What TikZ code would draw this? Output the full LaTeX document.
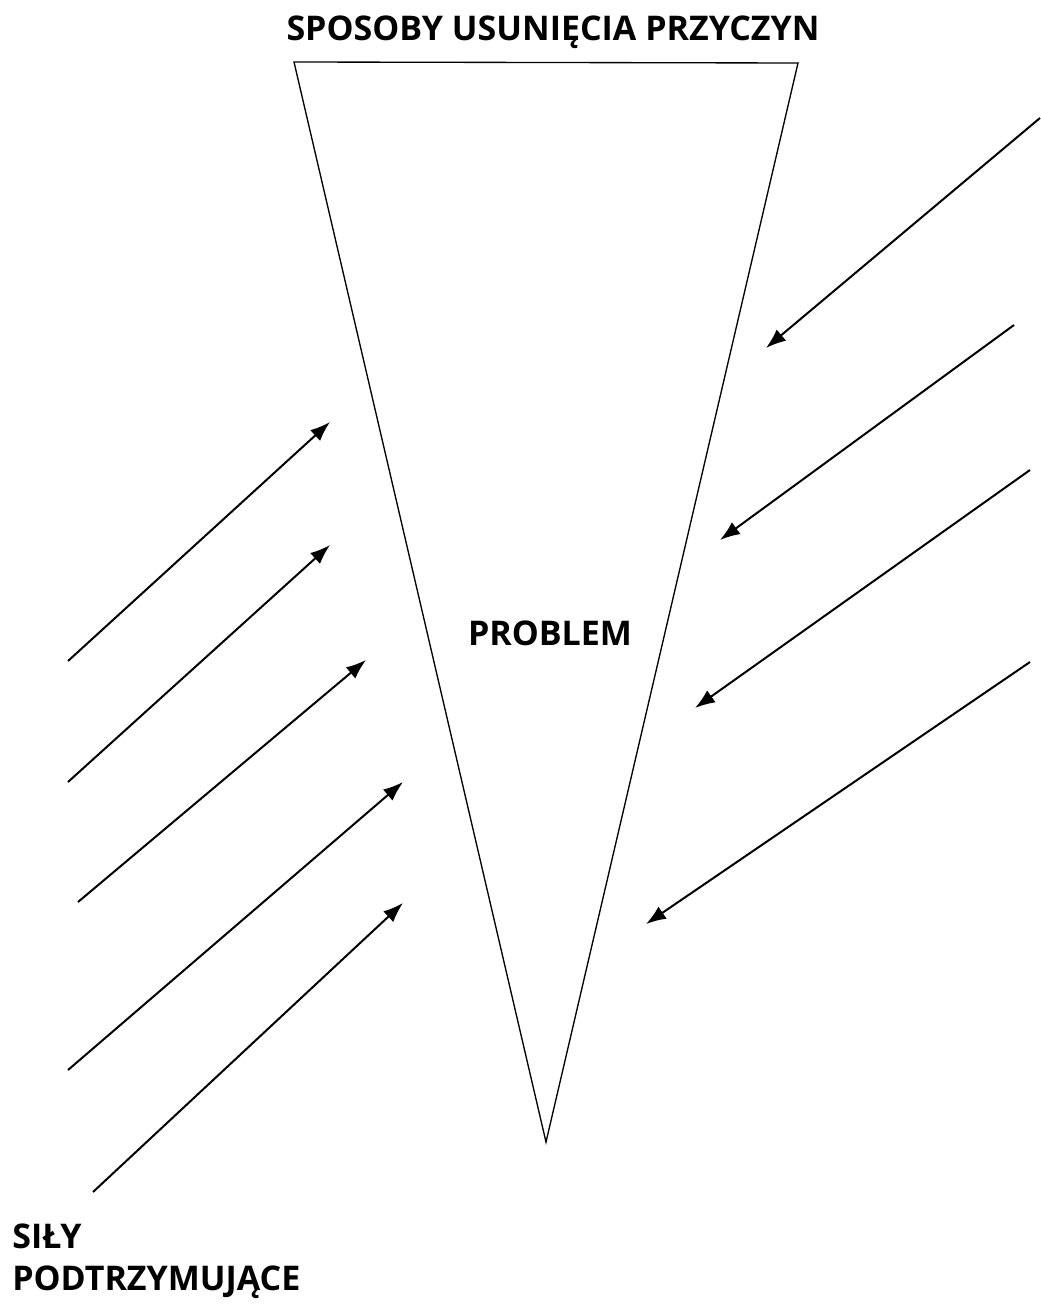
\documentclass[tikz,border=0pt]{standalone}
\usepackage{fontspec}
\setmainfont{Open Sans}
\usetikzlibrary{arrows.meta}

\begin{document}
\begin{tikzpicture}[x=0.75pt,y=-0.75pt, every node/.style={font=\bfseries\fontsize{25.5}{31.5}\selectfont}]
  \useasboundingbox (0,0) rectangle (1041,1305);
  % the funnel
  \coordinate (tl) at (294,62);
  \coordinate (tr) at (798,63);
  \coordinate (tip) at (546,1142);
  \draw[line width=1pt, line join=miter] (tl) -- (tr) -- (tip) -- cycle;
  % labels
  \node[anchor=base] (title) at (553,41) {SPOSOBY USUNIĘCIA PRZYCZYN};
  \node[anchor=base] (problem) at (550,645) {PROBLEM};
  \node[anchor=base west, align=left, inner sep=0pt] (forces) at (12,1290) {SIŁY\\PODTRZYMUJĄCE};
  % forces from the left
  \foreach \i/\ax/\ay/\bx/\by in {1/68/661/330/422, 2/68/782/330/545, 3/78/902/366/660, 4/68/1070/403/782, 5/93/1192/403/903} {
    \coordinate (l\i a) at (\ax,\ay);
    \coordinate (l\i b) at (\bx,\by);
    \draw[-{Latex[length=15pt,width=11pt]}, line width=1.5pt] (l\i a) -- (l\i b);
  }
  % forces from the right
  \foreach \i/\ax/\ay/\bx/\by in {1/1040/118/766/348, 2/1014/325/720/540, 3/1030/470/695/708, 4/1030/662/646/924} {
    \coordinate (r\i a) at (\ax,\ay);
    \coordinate (r\i b) at (\bx,\by);
    \draw[-{Latex[length=15pt,width=11pt]}, line width=1.5pt] (r\i a) -- (r\i b);
  }
\end{tikzpicture}
\end{document}
